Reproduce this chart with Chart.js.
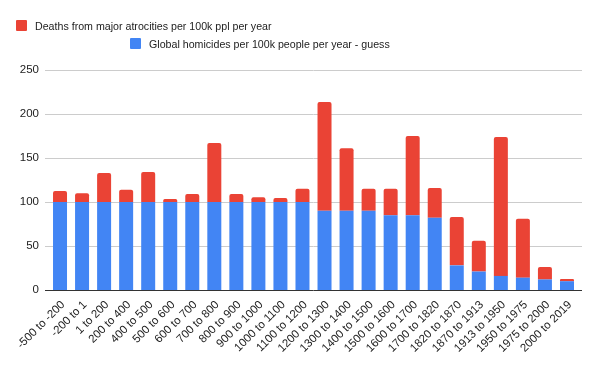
<!DOCTYPE html>
<html>
<head>
<meta charset="utf-8">
<script src="https://cdn.jsdelivr.net/npm/chart.js@4/dist/chart.umd.min.js"></script>
<style>
  html, body { margin: 0; padding: 0; background: #fff; }
  #wrap { position: relative; width: 600px; height: 371px; }
  .leg { position: absolute; font: 10.65px "Liberation Sans", Arial, sans-serif; color: #222; white-space: nowrap; line-height: 12px; }
  .leg i { position: absolute; left: 0; top: 0; width: 11px; height: 11px; border-radius: 1px; }
  .leg span { position: absolute; left: 19px; top: 0; }
</style>
</head>
<body>
<div id="wrap">
  <canvas id="chart" width="600" height="371"></canvas>
  <div class="leg" style="left:16px; top:20px;"><i style="background:#ea4335"></i><span>Deaths from major atrocities per 100k ppl per year</span></div>
  <div class="leg" style="left:130px; top:38px;"><i style="background:#4285f4"></i><span>Global homicides per 100k people per year - guess</span></div>
</div>
<script>
// periods on the x axis
const periods = [
  "-500 to -200", "-200 to 1", "1 to 200", "200 to 400", "400 to 500", "500 to 600",
  "600 to 700", "700 to 800", "800 to 900", "900 to 1000", "1000 to 1100", "1100 to 1200",
  "1200 to 1300", "1300 to 1400", "1400 to 1500", "1500 to 1600", "1600 to 1700", "1700 to 1820",
  "1820 to 1870", "1870 to 1913", "1913 to 1950", "1950 to 1975", "1975 to 2000", "2000 to 2019"
];

// homicides per 100k (bottom of each stack)
const homicides = [100, 100, 100, 100, 100, 100, 100, 100, 100, 100, 100, 100,
  90, 90, 90, 85, 85, 82, 28, 21, 16, 14, 12, 10];

// atrocity deaths per 100k (stacked on top)
const atrocities = [12.5, 10, 33, 14, 34, 3.5, 9, 67, 9, 5.5, 4.5, 15,
  123.5, 71, 25, 30, 90, 34, 55, 35, 158, 67, 14, 2.5];

const yTicks = [0, 50, 100, 150, 200, 250];

const tickFont = { family: "'Liberation Sans', Arial, sans-serif", size: 11.5 };

// gridlines run a little past the bars on both sides, like the sheets chart
const wideGrid = {
  id: "wideGrid",
  beforeDatasetsDraw(chart) {
    const { ctx, chartArea, scales } = chart;
    ctx.save();
    ctx.strokeStyle = "#cccccc";
    ctx.lineWidth = 1;
    yTicks.slice(1).forEach((v) => {
      const y = Math.round(scales.y.getPixelForValue(v)) + 0.5;
      ctx.beginPath();
      ctx.moveTo(chartArea.left - 4, y);
      ctx.lineTo(chartArea.right + 4, y);
      ctx.stroke();
    });
    ctx.restore();
  },
  afterDatasetsDraw(chart) {
    const { ctx, chartArea, scales } = chart;
    const y = Math.round(scales.y.getPixelForValue(0)) + 0.5;
    ctx.save();
    ctx.strokeStyle = "#333333";
    ctx.lineWidth = 1;
    ctx.beginPath();
    ctx.moveTo(chartArea.left - 4, y);
    ctx.lineTo(chartArea.right + 4, y);
    ctx.stroke();
    ctx.restore();
  }
};

new Chart(document.getElementById("chart"), {
  type: "bar",
  data: {
    labels: periods,
    datasets: [
      {
        label: "Global homicides per 100k people per year - guess",
        data: homicides,
        backgroundColor: "#4285f4",
        borderRadius: 2,
        borderSkipped: "start"
      },
      {
        label: "Deaths from major atrocities per 100k ppl per year",
        data: atrocities,
        backgroundColor: "#ea4335",
        borderRadius: 2,
        borderSkipped: "start"
      }
    ]
  },
  plugins: [wideGrid],
  options: {
    responsive: false,
    animation: false,
    layout: { padding: { top: 70, right: 22, left: 0, bottom: 0 } },
    datasets: { bar: { barPercentage: 0.635, categoryPercentage: 1 } },
    plugins: { legend: { display: false }, tooltip: { enabled: false } },
    scales: {
      x: {
        stacked: true,
        grid: { display: false, drawTicks: false },
        border: { display: false },
        ticks: { font: tickFont, color: "#222", minRotation: 45, maxRotation: 45, autoSkip: false, padding: 8, labelOffset: 3 },
        afterFit: (scale) => { scale.height = 81; }
      },
      y: {
        stacked: true,
        min: 0,
        max: 250,
        afterBuildTicks: (scale) => { scale.ticks = yTicks.map((v) => ({ value: v })); },
        grid: { display: false, drawTicks: false },
        border: { display: false },
        ticks: { font: tickFont, color: "#222", padding: 10 },
        afterFit: (scale) => { scale.width = 49; }
      }
    }
  }
});
</script>
</body>
</html>
